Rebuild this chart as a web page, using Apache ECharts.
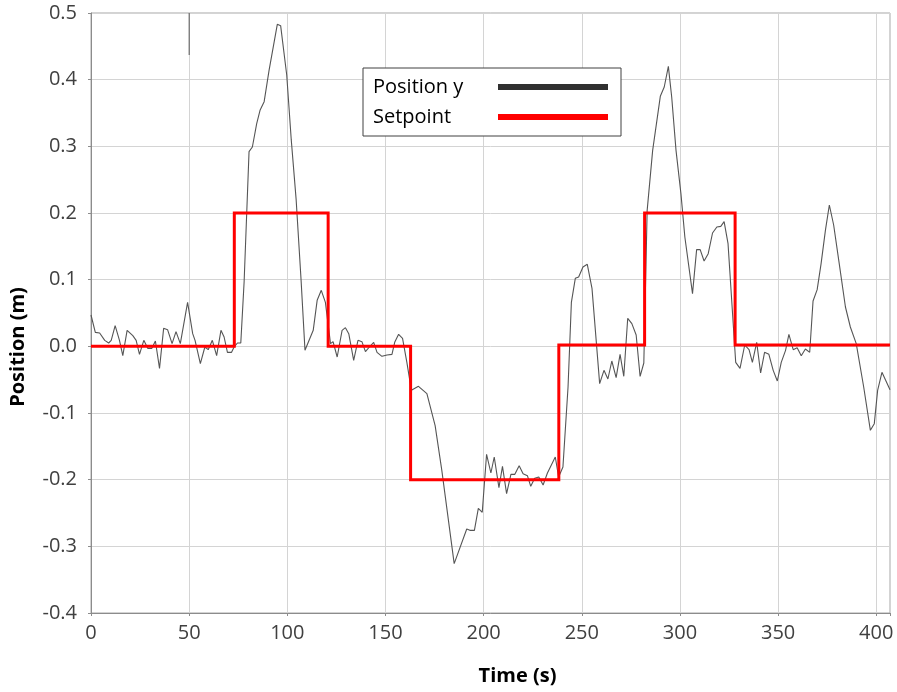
<!DOCTYPE html>
<html>
<head>
<meta charset="utf-8">
<script src="https://cdn.jsdelivr.net/npm/echarts@6/dist/echarts.min.js"></script>
<style>html,body{margin:0;padding:0;background:#fff}#c{width:897px;height:692px}</style>
</head>
<body>
<div id="c"></div>
<script>
// Position y (measured), time in s
const posT = [0,2.2,4.4,7,9,10.3,12.3,14.5,16.2,18.4,21.3,23,24.7,26.9,28.9,31,32.8,34.9,37,39,41.3,43.3,45.5,49.2,51.8,53,55.7,58,59.7,61.8,64,66.2,67.8,69.5,71.6,72.9,74.6,76.3,78,80.5,82.2,84.4,86.1,88.2,90.7,94.9,96.6,99.7,102,104.5,107,109,113.2,115.2,117.3,119.4,122,123.3,125.4,127.9,129.6,131.3,133.8,136,138,139.8,141.8,144,145.7,148.2,150.8,153.3,154.7,156.7,158.7,160.9,163.2,166.8,171.1,175.3,178.7,185,191.4,193,195.3,197.3,199.3,201.5,203.7,205.4,207.8,209.6,211.7,213.9,215.9,218.1,220.1,222.3,224,226,228.1,230.3,232.5,236.5,238.2,240.4,243,244.7,246.7,248.4,250.6,252.8,255.2,259.1,261.3,263.3,265.3,267.5,269.5,271.4,273.4,275.5,277.7,279.7,281.6,283.3,286.1,290,292,294.1,295.8,298,300.5,302.5,306.4,308.5,310.3,312.3,314.4,316.6,318.8,320.8,322.5,324.5,328.4,330.6,333,335.2,336.9,339.1,341.1,343.1,345.3,347.5,349.6,351.6,353.8,355.5,357.7,359.7,361.8,363.9,366.1,367.8,369.9,371.9,374.1,376.1,378.3,380.9,384.3,386.8,389.8,393.6,397,399,400.7,402.9,407];
const posY = [0.047,0.021,0.020,0.009,0.005,0.009,0.031,0.009,-0.014,0.024,0.016,0.009,-0.012,0.009,-0.003,-0.003,0.008,-0.033,0.027,0.025,0.004,0.022,0.004,0.066,0.019,0.009,-0.026,-0.001,-0.005,0.009,-0.014,0.024,0.014,-0.009,-0.009,-0.001,0.005,0.005,0.097,0.292,0.299,0.334,0.354,0.367,0.414,0.483,0.481,0.407,0.31,0.22,0.10,-0.006,0.024,0.069,0.084,0.066,0.004,0.007,-0.016,0.024,0.028,0.019,-0.021,0.009,0.007,-0.008,-0.001,0.006,-0.009,-0.015,-0.013,-0.012,0.006,0.018,0.012,-0.024,-0.066,-0.060,-0.071,-0.119,-0.186,-0.326,-0.274,-0.276,-0.276,-0.243,-0.249,-0.162,-0.190,-0.166,-0.212,-0.180,-0.221,-0.192,-0.192,-0.179,-0.191,-0.194,-0.210,-0.198,-0.196,-0.208,-0.190,-0.166,-0.196,-0.181,-0.061,0.066,0.102,0.104,0.119,0.123,0.087,-0.056,-0.036,-0.049,-0.022,-0.047,-0.012,-0.045,0.042,0.034,0.017,-0.045,-0.025,0.204,0.294,0.375,0.389,0.420,0.374,0.294,0.229,0.164,0.079,0.145,0.145,0.128,0.139,0.170,0.179,0.180,0.187,0.154,-0.024,-0.033,0.002,-0.005,-0.024,0.006,-0.040,-0.009,-0.012,-0.036,-0.052,-0.024,-0.006,0.018,-0.005,-0.002,-0.014,-0.004,-0.009,0.068,0.085,0.124,0.174,0.212,0.182,0.129,0.059,0.029,0.004,-0.061,-0.126,-0.116,-0.066,-0.039,-0.065];
// Setpoint (step changes)
const spT = [0,73,120.8,162.8,238.3,282,328.1,407];
const spY = [0,0.2,0,-0.2,0.002,0.2,0.002,0.002];
// small artifact segment at t=50 near the top
const artT = [50,50];
const artY = [0.5,0.437];

const xTicks = {min:0, max:407, interval:50};
const yTicks = {min:-0.4, max:0.5, interval:0.1};

const zip = (a,b) => a.map((v,i)=>[v,b[i]]);
const FONT = "'Open Sans', 'Noto Sans', sans-serif";

const chart = echarts.init(document.getElementById('c'));
chart.setOption({
  animation:false,
  backgroundColor:'#fff',
  grid:{left:88,right:7,top:13,bottom:79,show:true,borderColor:'#a6a6a6',borderWidth:1},
  legend:{
    left:363, top:68, orient:'vertical', align:'right',
    padding:[9,13,9,10], itemGap:10,
    itemWidth:110, itemHeight:6,
    backgroundColor:'#fff', borderColor:'#404040', borderWidth:1,
    data:[{name:'Position y',icon:'rect',itemStyle:{color:'#303030'}},{name:'Setpoint',icon:'rect',itemStyle:{color:'#ff0000'}}],
    formatter: n => '{a|'+n+'}{s|}',
    textStyle:{fontFamily:FONT,fontSize:20,color:'#000',width:120,overflow:'none',
      rich:{a:{fontFamily:FONT,fontSize:20,color:'#000',align:'left'},s:{width:1,align:'right'}}}
  },
  xAxis:{
    type:'value', min:xTicks.min, max:xTicks.max, interval:xTicks.interval,
    name:'Time (s)', nameLocation:'middle', nameGap:53,
    nameTextStyle:{fontFamily:FONT,fontSize:20,fontWeight:'bold',color:'#000',padding:[0,0,0,54]},
    axisLine:{show:true,onZero:false,lineStyle:{color:'#8c8c8c',width:1}},
    axisTick:{show:true,length:3,lineStyle:{color:'#8c8c8c'}},
    axisLabel:{fontFamily:FONT,fontSize:20,color:'#404040',margin:10,formatter:v=> (v%50===0? String(v):'')},
    splitLine:{show:true,lineStyle:{color:'#d4d4d4',width:1}}
  },
  yAxis:{
    type:'value', min:yTicks.min, max:yTicks.max, interval:yTicks.interval,
    name:'Position (m)', nameLocation:'middle', nameGap:63,
    nameTextStyle:{fontFamily:FONT,fontSize:20,fontWeight:'bold',color:'#000',padding:[0,68,0,0]},
    axisLine:{show:true,onZero:false,lineStyle:{color:'#8c8c8c',width:1}},
    axisTick:{show:true,length:3,lineStyle:{color:'#8c8c8c'}},
    axisLabel:{fontFamily:FONT,fontSize:20,color:'#404040',margin:14,formatter:v=>v.toFixed(1)},
    splitLine:{show:true,lineStyle:{color:'#d4d4d4',width:1}}
  },
  series:[
    {name:'Position y',type:'line',data:zip(posT,posY),showSymbol:false,symbol:'none',
     lineStyle:{color:'#555555',width:1.1},itemStyle:{color:'#303030'},z:3},
    {name:'Setpoint',type:'line',step:'end',data:zip(spT,spY),showSymbol:false,symbol:'none',
     lineStyle:{color:'#ff0000',width:3,join:'miter'},itemStyle:{color:'#ff0000'},z:4},
    {name:'artifact',type:'line',data:zip(artT,artY),showSymbol:false,symbol:'none',
     lineStyle:{color:'#555555',width:1},z:3,legendHoverLink:false}
  ]
});
</script>
</body>
</html>
